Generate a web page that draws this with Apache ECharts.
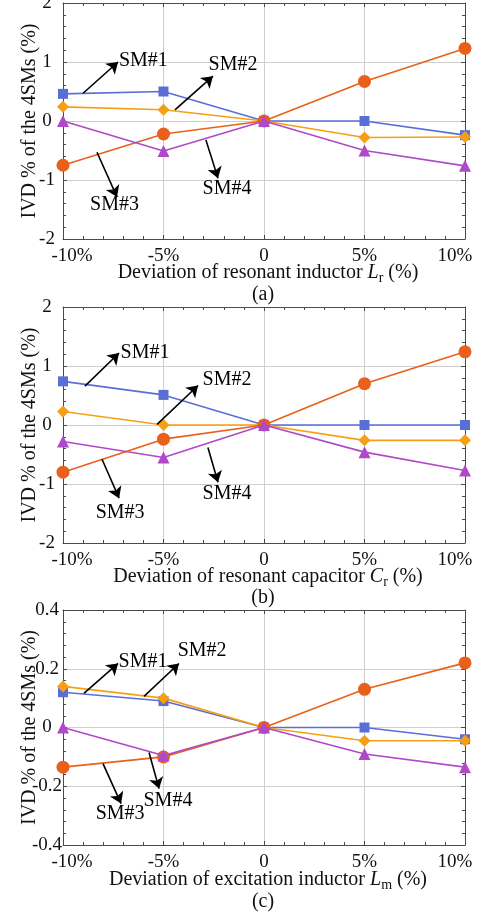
<!DOCTYPE html>
<html>
<head>
<meta charset="utf-8">
<script src="https://cdn.jsdelivr.net/npm/echarts@6/dist/echarts.min.js"></script>
<style>
  html, body { margin: 0; padding: 0; background: #fff; }
  #chart { width: 487px; height: 915px; }
</style>
</head>
<body>
<div id="chart"></div>
<script>
// Parameter deviation (%) on the x axis
const deviations = [-10, -5, 0, 5, 10];

// (a) resonant inductor Lr
const sm1Lr = [0.46, 0.50, 0, 0, -0.24];
const sm2Lr = [0.24, 0.19, 0, -0.28, -0.27];
const sm3Lr = [-0.75, -0.22, 0, 0.67, 1.23];
const sm4Lr = [0, -0.51, 0, -0.50, -0.76];

// (b) resonant capacitor Cr
const sm1Cr = [0.74, 0.51, 0, 0, 0];
const sm2Cr = [0.23, 0, 0, -0.26, -0.26];
const sm3Cr = [-0.80, -0.24, 0, 0.70, 1.24];
const sm4Cr = [-0.28, -0.55, 0, -0.46, -0.77];

// (c) excitation inductor Lm
const sm1Lm = [0.12, 0.09, 0, 0, -0.04];
const sm2Lm = [0.14, 0.10, 0, -0.045, -0.045];
const sm3Lm = [-0.135, -0.10, 0, 0.13, 0.22];
const sm4Lm = [0, -0.095, 0, -0.09, -0.135];

const seriesNames = ['SM#1', 'SM#2', 'SM#3', 'SM#4'];

// y-axis ranges per panel
const yRangeA = [-2, 2, 1];
const yRangeB = [-2, 2, 1];
const yRangeC = [-0.4, 0.4, 0.2];

// Callout arrows in data units: [name, tail, head, text centre]
const calloutsA = [
  ['SM#1', [-9.0, 0.47], [-7.26, 1.0], [-6.0, 1.02]],
  ['SM#2', [-4.43, 0.19], [-2.54, 0.76], [-1.54, 0.95]],
  ['SM#3', [-8.31, -0.53], [-7.31, -1.29], [-7.44, -1.42]],
  ['SM#4', [-2.89, -0.32], [-2.29, -0.97], [-1.84, -1.15]]
];
const calloutsB = [
  ['SM#1', [-8.91, 0.66], [-7.21, 1.22], [-5.92, 1.23]],
  ['SM#2', [-5.32, 0.01], [-3.28, 0.67], [-1.84, 0.77]],
  ['SM#3', [-8.06, -0.58], [-7.21, -1.24], [-7.16, -1.48]],
  ['SM#4', [-2.79, -0.38], [-2.29, -0.97], [-1.84, -1.16]]
];
const calloutsC = [
  ['SM#1', [-8.96, 0.116], [-7.26, 0.218], [-6.02, 0.225]],
  ['SM#2', [-5.97, 0.106], [-4.23, 0.218], [-3.08, 0.262]],
  ['SM#3', [-8.01, -0.123], [-7.11, -0.259], [-7.16, -0.293]],
  ['SM#4', [-5.72, -0.085], [-5.22, -0.208], [-4.78, -0.249]]
];

const FONT = "'Liberation Serif', 'Times New Roman', serif";
const FRAME = '#4a4a4a';
const GRIDC = '#cfcfcf';
const colors = ['#5a6fd6', '#f5a014', '#e8601a', '#b049c8'];
const symbols = ['rect', 'diamond', 'circle', 'triangle'];
const symbolSizes = [10, 12, 13, 12];

const panels = [
  { top: 3, height: 236, range: yRangeA, data: [sm1Lr, sm2Lr, sm3Lr, sm4Lr], callouts: calloutsA,
    xTitle: ['Deviation of resonant inductor ', 'L', 'r'], caption: '(a)', titleY: 273, capY: 295 },
  { top: 307, height: 236, range: yRangeB, data: [sm1Cr, sm2Cr, sm3Cr, sm4Cr], callouts: calloutsB,
    xTitle: ['Deviation of resonant capacitor ', 'C', 'r'], caption: '(b)', titleY: 577, capY: 598 },
  { top: 610, height: 235, range: yRangeC, data: [sm1Lm, sm2Lm, sm3Lm, sm4Lm], callouts: calloutsC,
    xTitle: ['Deviation of excitation inductor ', 'L', 'm'], caption: '(c)', titleY: 880, capY: 902 }
];

const grid = [], xAxis = [], yAxis = [], series = [], graphic = [];

const frameAxisLine = { show: true, onZero: false, lineStyle: { color: FRAME, width: 1 } };
const frameTick = { show: true, inside: true, length: 4, lineStyle: { color: FRAME } };
const frameMinor = { show: true, splitNumber: 5, length: 3, lineStyle: { color: FRAME } };

function xLabel(v) {
  const t = v === 0 ? '0' : v + '%';
  if (v === -10) return '{l|' + t + '}';
  if (v === 10) return '{r|' + t + '}';
  return '{c|' + t + '}';
}

panels.forEach((p, i) => {
  grid.push({ left: 63, width: 402, top: p.top, height: p.height, outerBoundsMode: 'none', containLabel: false });
  const labelFont = { fontFamily: FONT, fontSize: 19, color: '#111' };
  // bottom x axis with labels and grid lines
  xAxis.push({
    gridIndex: i, type: 'value', min: -10, max: 10, interval: 5, position: 'bottom',
    axisLine: frameAxisLine, axisTick: frameTick, minorTick: frameMinor,
    splitLine: { show: true, lineStyle: { color: GRIDC, width: 1 } },
    axisLabel: {
      show: true, margin: 8, formatter: xLabel, ...labelFont,
      rich: {
        l: { ...labelFont, padding: [0, 0, 0, 18] },
        r: { ...labelFont, padding: [0, 20, 0, 0] },
        c: { ...labelFont }
      }
    }
  });
  // top x axis: frame and ticks only
  xAxis.push({
    gridIndex: i, type: 'value', min: -10, max: 10, interval: 5, position: 'top',
    axisLine: frameAxisLine, axisTick: frameTick, minorTick: frameMinor,
    splitLine: { show: false }, axisLabel: { show: false }
  });
  const [ymin, ymax, yint] = p.range;
  yAxis.push({
    gridIndex: i, type: 'value', min: ymin, max: ymax, interval: yint, position: 'left',
    axisLine: frameAxisLine, axisTick: frameTick, minorTick: frameMinor,
    splitLine: { show: true, lineStyle: { color: GRIDC, width: 1 } },
    axisLabel: { show: true, margin: 16, align: 'center', ...labelFont }
  });
  yAxis.push({
    gridIndex: i, type: 'value', min: ymin, max: ymax, interval: yint, position: 'right',
    axisLine: frameAxisLine, axisTick: frameTick, minorTick: frameMinor,
    splitLine: { show: false }, axisLabel: { show: false }
  });

  const xi = 2 * i, yi = 2 * i;
  p.data.forEach((vals, k) => {
    series.push({
      name: seriesNames[k], type: 'line', xAxisIndex: xi, yAxisIndex: yi,
      data: deviations.map((d, j) => [d, vals[j]]),
      symbol: symbols[k], symbolSize: symbolSizes[k], showAllSymbol: true,
      clip: false, animation: false,
      lineStyle: { color: colors[k], width: 1.6 },
      itemStyle: { color: colors[k] },
      z: 3 + k
    });
  });

  // callout arrows
  series.push({
    type: 'lines', coordinateSystem: 'cartesian2d', xAxisIndex: xi, yAxisIndex: yi,
    polyline: false, silent: true, animation: false,
    symbol: ['none', 'arrow'], symbolSize: 11,
    lineStyle: { color: '#000', width: 1.6, opacity: 1 },
    data: p.callouts.map(c => ({ coords: [c[1], c[2]] })),
    z: 10
  });
  // callout texts
  series.push({
    type: 'scatter', xAxisIndex: xi, yAxisIndex: yi, silent: true, animation: false,
    symbol: 'circle', symbolSize: 1, itemStyle: { color: '#fff', opacity: 1 },
    label: {
      show: true, position: 'inside', formatter: '{b}', fontFamily: FONT, fontSize: 20,
      color: '#000', opacity: 1, textBorderWidth: 0
    },
    data: p.callouts.map(c => ({ name: c[0], value: c[3] })),
    z: 10
  });

  // y-axis title
  graphic.push({
    type: 'text', x: 30, y: p.top + p.height / 2, rotation: Math.PI / 2,
    style: { text: 'IVD % of the 4SMs (%)', font: '20px ' + FONT, fill: '#111', align: 'center', verticalAlign: 'middle' }
  });
  // x-axis title with italic symbol and subscript
  graphic.push({
    type: 'text', x: 268, y: p.titleY,
    style: {
      text: '{n|' + p.xTitle[0] + '}{i|' + p.xTitle[1] + '}{s|' + p.xTitle[2] + '}{n| (%)}',
      align: 'center', verticalAlign: 'middle', fill: '#111',
      rich: {
        n: { fontFamily: FONT, fontSize: 20, lineHeight: 24, fill: '#111' },
        i: { fontFamily: FONT, fontSize: 20, fontStyle: 'italic', lineHeight: 24, fill: '#111' },
        s: { fontFamily: FONT, fontSize: 14, lineHeight: 14, verticalAlign: 'bottom', fill: '#111' }
      }
    }
  });
  graphic.push({
    type: 'text', x: 263, y: p.capY,
    style: { text: p.caption, font: '20px ' + FONT, fill: '#111', align: 'center', verticalAlign: 'middle' }
  });
});

const chart = echarts.init(document.getElementById('chart'), null, { renderer: 'canvas' });
chart.setOption({
  animation: false,
  backgroundColor: '#fff',
  grid, xAxis, yAxis, series, graphic
});
</script>
</body>
</html>
